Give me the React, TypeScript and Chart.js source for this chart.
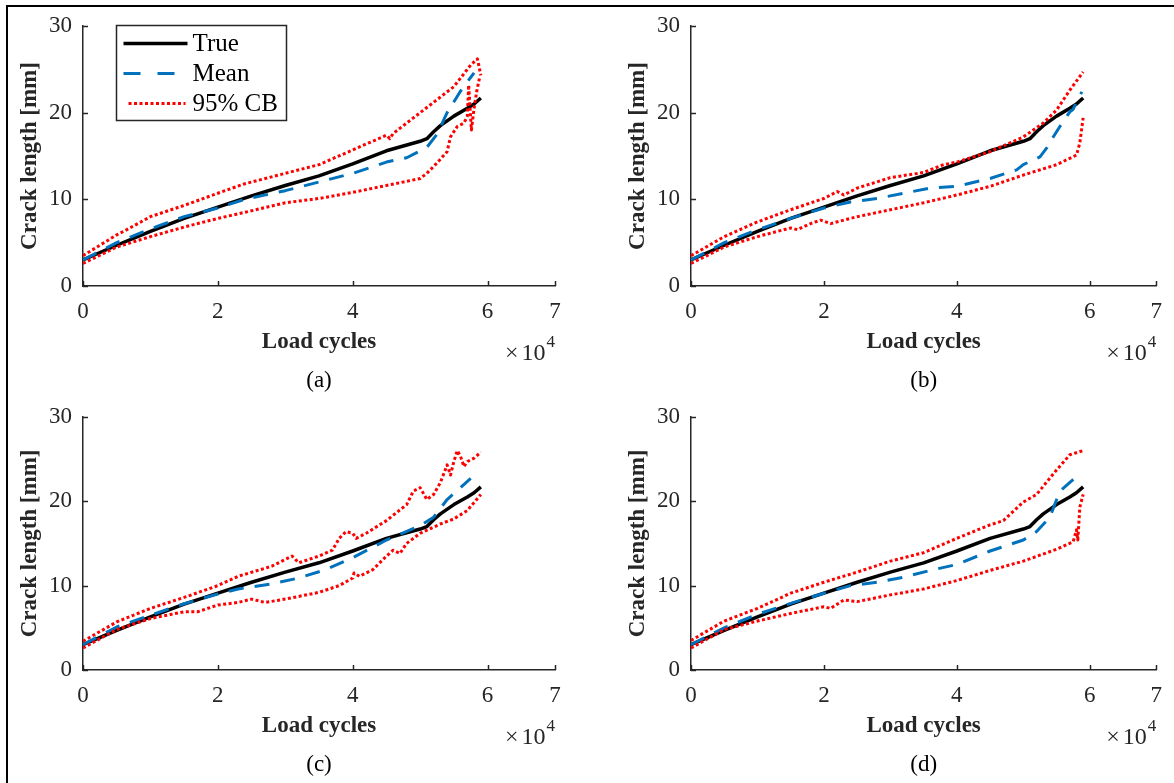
import React, { useEffect, useRef } from "react";
import { Chart, registerables } from "chart.js";
Chart.register(...registerables);

type P = [number, number];

const xTickValues = [0, 2, 4, 6, 7];
const yTickValues = [0, 10, 20, 30];
const xAxisTitle = "Load cycles";
const yAxisTitle = "Crack length [mm]";
const xExponent = "4";
const legendNames = ["True", "Mean", "95% CB"];
const panelLabels = ["(a)", "(b)", "(c)", "(d)"];

// True crack growth (same in all panels)
const trueCurve: P[] = [
  [0, 3.0], [0.5, 4.7], [1, 6.3], [1.5, 7.8], [2, 9.1], [2.5, 10.4], [3, 11.6],
  [3.5, 12.7], [4, 14.1], [4.5, 15.6], [5, 16.7], [5.1, 17.0], [5.2, 17.8],
  [5.3, 18.5], [5.5, 19.6], [5.7, 20.5], [5.8, 21.0], [5.9, 21.7],
];

// (a)
const meanA: P[] = [
  [0, 3.0], [0.5, 5.0], [1, 6.6], [1.5, 8.0], [2, 9.0], [2.4, 10.0], [3, 11.0],
  [3.5, 12.0], [4, 13.0], [4.5, 14.3], [4.8, 14.8], [5.0, 15.6], [5.1, 16.0],
  [5.25, 17.5], [5.4, 20.0], [5.6, 22.5], [5.8, 24.6],
];
const upperA: P[] = [
  [0, 3.5], [0.5, 5.9], [0.65, 6.5], [1, 8.0], [1.5, 9.3], [2, 10.7], [2.4, 11.8],
  [3, 13.0], [3.5, 14.0], [4, 15.7], [4.5, 17.4], [4.55, 17.0], [4.6, 17.6],
  [5.0, 20.0], [5.5, 23.0], [5.75, 25.5], [5.85, 26.2], [5.9, 24.3],
];
const lowerA: P[] = [
  [0, 2.6], [0.5, 4.5], [1, 5.7], [1.5, 6.8], [2, 7.8], [2.4, 8.5], [3, 9.6],
  [3.5, 10.1], [4, 10.8], [4.5, 11.6], [5.0, 12.4], [5.1, 13.0], [5.25, 14.2],
  [5.4, 15.5], [5.45, 17.2], [5.55, 18.4], [5.65, 18.8], [5.7, 19.6],
  [5.72, 23.2], [5.76, 18.0], [5.8, 20.5], [5.84, 22.5], [5.88, 24.0],
];

// (b)
const meanB: P[] = [
  [0, 3.0], [0.5, 5.0], [1, 6.5], [1.5, 7.8], [2, 9.0], [2.4, 9.7], [2.8, 10.1],
  [3.2, 10.7], [3.6, 11.3], [4, 11.5], [4.5, 12.4], [4.9, 13.4], [5.0, 14.0],
  [5.25, 14.9], [5.35, 15.9], [5.45, 17.2], [5.55, 18.4], [5.7, 20.1],
  [5.75, 20.4], [5.88, 22.4],
];
const upperB: P[] = [
  [0, 3.5], [0.5, 5.7], [1, 7.4], [1.5, 8.8], [2, 10.1], [2.2, 10.9], [2.3, 10.5],
  [2.5, 11.3], [3, 12.5], [3.5, 13.1], [3.8, 14.0], [4, 14.3], [4.5, 15.5],
  [5, 17.2], [5.3, 18.8], [5.5, 20.3], [5.7, 22.6], [5.9, 24.7],
];
const lowerB: P[] = [
  [0, 2.6], [0.5, 4.5], [1, 5.7], [1.5, 6.7], [1.6, 6.5], [1.8, 7.2], [1.95, 7.6],
  [2.1, 7.2], [2.5, 8.0], [3, 8.8], [3.5, 9.6], [4, 10.5], [4.5, 11.5],
  [5, 12.8], [5.5, 14.0], [5.8, 15.1], [5.85, 16.5], [5.9, 19.4],
];

// (c)
const meanC: P[] = [
  [0, 3.0], [0.5, 5.1], [1, 6.5], [1.5, 7.85], [2, 9.0], [2.3, 9.6], [2.8, 10.2],
  [3.2, 10.9], [3.6, 11.9], [4, 13.3], [4.5, 15.4], [5, 17.1], [5.2, 18.1],
  [5.4, 20.2], [5.75, 22.7],
];
const upperC: P[] = [
  [0, 3.4], [0.5, 5.7], [1, 7.3], [1.5, 8.6], [2, 10.0], [2.3, 11.1], [2.8, 12.3],
  [3.0, 13.1], [3.1, 13.5], [3.2, 12.7], [3.5, 13.5], [3.7, 14.2], [3.8, 15.6],
  [3.9, 16.4], [4.0, 16.2], [4.05, 15.6], [4.2, 16.2], [4.5, 17.7], [4.8, 19.6],
  [4.9, 21.2], [5.0, 21.6], [5.1, 20.2], [5.2, 20.8], [5.3, 22.2], [5.4, 24.3],
  [5.45, 23.1], [5.5, 24.7], [5.55, 26.0], [5.6, 25.3], [5.65, 24.1], [5.7, 24.7],
  [5.8, 25.1], [5.9, 25.8],
];
const lowerC: P[] = [
  [0, 2.6], [0.5, 4.8], [1, 6.1], [1.5, 6.9], [1.7, 6.9], [2.0, 7.7], [2.3, 8.0],
  [2.5, 8.4], [2.7, 8.0], [3, 8.4], [3.5, 9.2], [3.8, 10.0], [4.0, 10.9],
  [4.02, 11.5], [4.1, 11.1], [4.3, 11.9], [4.5, 13.5], [4.6, 14.2], [4.7, 13.8],
  [4.8, 15.0], [5.0, 16.2], [5.3, 17.3], [5.5, 17.9], [5.7, 18.9], [5.9, 20.8],
];

// (d)
const meanD: P[] = [
  [0, 3.0], [0.5, 5.0], [1, 6.6], [1.5, 7.9], [2, 9.1], [2.4, 10.0], [2.8, 10.4],
  [3.2, 11.0], [3.6, 11.8], [4, 12.5], [4.5, 14.1], [5, 15.4], [5.2, 16.4],
  [5.4, 18.1], [5.55, 21.2], [5.8, 22.9], [5.85, 23.3],
];
const upperD: P[] = [
  [0, 3.5], [0.5, 5.8], [0.8, 6.7], [1, 7.3], [1.5, 9.1], [2, 10.4], [2.5, 11.6],
  [3, 12.9], [3.5, 13.9], [4, 15.6], [4.5, 17.2], [4.7, 17.7], [5, 19.9],
  [5.2, 20.8], [5.5, 23.7], [5.7, 25.5], [5.9, 26.0],
];
const lowerD: P[] = [
  [0, 2.6], [0.5, 4.8], [1, 5.8], [1.5, 6.7], [2, 7.5], [2.1, 7.3], [2.3, 8.3],
  [2.5, 8.1], [3, 8.9], [3.5, 9.6], [4, 10.6], [4.5, 11.8], [5, 12.9],
  [5.5, 14.3], [5.75, 15.2], [5.8, 16.6], [5.82, 15.4], [5.85, 19.3], [5.9, 20.8],
];

const meanSets = [meanA, meanB, meanC, meanD];
const upperSets = [upperA, upperB, upperC, upperD];
const lowerSets = [lowerA, lowerB, lowerC, lowerD];

const SERIF = "'Liberation Serif', 'Times New Roman', serif";
const AXIS = "#262626";
const BLUE = "#0072BD";
const RED = "#FF0000";

const W = 1174;
const H = 783;

const layouts = [
  { ox: 0, oy: 0, w: 587, h: 392, L: 83, T: 26, R: 555, B: 286 },
  { ox: 587, oy: 0, w: 587, h: 392, L: 691, T: 26, R: 1163, B: 286 },
  { ox: 0, oy: 392, w: 587, h: 391, L: 83, T: 411, R: 555, B: 670 },
  { ox: 587, oy: 392, w: 587, h: 391, L: 691, T: 411, R: 1163, B: 670 },
];

const toXY = (arr: P[]) => arr.map(([x, y]) => ({ x, y }));

const decorPlugin = {
  id: "decor",
  afterDraw(chart: any, _args: any, opts: any) {
    const { ctx, chartArea, scales } = chart;
    const { left, right, top, bottom } = chartArea;
    ctx.save();
    // inward ticks
    ctx.strokeStyle = AXIS;
    ctx.lineWidth = 1.5;
    ctx.setLineDash([]);
    xTickValues.forEach((v) => {
      const px = Math.round(scales.x.getPixelForValue(v)) + 0.5;
      ctx.beginPath();
      ctx.moveTo(px, bottom);
      ctx.lineTo(px, bottom - 5);
      ctx.stroke();
    });
    yTickValues.forEach((v) => {
      const py = Math.round(scales.y.getPixelForValue(v)) + 0.5;
      ctx.beginPath();
      ctx.moveTo(left, py);
      ctx.lineTo(left + 5, py);
      ctx.stroke();
    });

    // axis titles
    ctx.fillStyle = AXIS;
    ctx.font = `bold 23px ${SERIF}`;
    ctx.textAlign = "center";
    ctx.textBaseline = "middle";
    ctx.fillText(xAxisTitle, (left + right) / 2, bottom + 56);
    ctx.save();
    ctx.translate(left - 53, (top + bottom) / 2);
    ctx.rotate(-Math.PI / 2);
    ctx.fillText(yAxisTitle, 0, 0);
    ctx.restore();

    // x10^4
    ctx.font = `24px ${SERIF}`;
    const timesW = ctx.measureText("\u00d7").width;
    const tenW = ctx.measureText("10").width;
    ctx.font = `17px ${SERIF}`;
    const expW = ctx.measureText(xExponent).width;
    const gap = 3;
    const startX = right - 1 - expW - tenW - timesW - gap;
    ctx.textAlign = "left";
    ctx.textBaseline = "alphabetic";
    ctx.font = `24px ${SERIF}`;
    ctx.fillText("\u00d7", startX, bottom + 74);
    ctx.fillText("10", startX + timesW + gap, bottom + 74);
    ctx.font = `17px ${SERIF}`;
    ctx.fillText(xExponent, startX + timesW + gap + tenW + 1, bottom + 61);

    // panel label
    ctx.fillStyle = "#000";
    ctx.font = `23px ${SERIF}`;
    ctx.textAlign = "center";
    ctx.textBaseline = "middle";
    ctx.fillText(opts.label, (left + right) / 2, bottom + 95);

    // legend
    if (opts.legend) {
      const bx = left + 33.5;
      const by = top - 0.5;
      const bw = 170;
      const bh = 95;
      ctx.fillStyle = "#fff";
      ctx.fillRect(bx, by, bw, bh);
      ctx.strokeStyle = AXIS;
      ctx.lineWidth = 1.5;
      ctx.strokeRect(bx, by, bw, bh);
      const rows = [by + 18, by + 48, by + 78];
      const x1 = bx + 7;
      const x2 = bx + 71;
      // True
      ctx.lineCap = "butt";
      ctx.strokeStyle = "#000";
      ctx.lineWidth = 3.5;
      ctx.setLineDash([]);
      ctx.beginPath();
      ctx.moveTo(x1, rows[0]);
      ctx.lineTo(x2, rows[0]);
      ctx.stroke();
      // Mean
      ctx.strokeStyle = BLUE;
      ctx.lineWidth = 3;
      ctx.setLineDash([17, 17]);
      ctx.beginPath();
      ctx.moveTo(x1, rows[1]);
      ctx.lineTo(x2, rows[1]);
      ctx.stroke();
      // CB
      ctx.strokeStyle = RED;
      ctx.lineWidth = 3;
      ctx.setLineDash([3, 2.5]);
      ctx.beginPath();
      ctx.moveTo(x1 + 5, rows[2]);
      ctx.lineTo(x2 - 2, rows[2]);
      ctx.stroke();
      ctx.setLineDash([]);
      ctx.fillStyle = "#000";
      ctx.font = `25px ${SERIF}`;
      ctx.textAlign = "left";
      ctx.textBaseline = "middle";
      legendNames.forEach((n, i) => ctx.fillText(n, bx + 76, rows[i] + 1));
    }
    ctx.restore();
  },
};

function Panel({ idx }: { idx: number }) {
  const ref = useRef<HTMLCanvasElement | null>(null);
  const lay = layouts[idx];
  useEffect(() => {
    if (!ref.current) return;
    const yW = lay.L - lay.ox;
    const xH = lay.oy + lay.h - lay.B;
    const chart = new Chart(ref.current, {
      type: "line",
      data: {
        datasets: [
          {
            label: legendNames[2],
            data: toXY(upperSets[idx]),
            borderColor: RED,
            borderWidth: 3,
            borderDash: [3, 2.5],
            pointRadius: 0,
            tension: 0,
            fill: false,
          },
          {
            label: legendNames[2],
            data: toXY(lowerSets[idx]),
            borderColor: RED,
            borderWidth: 3,
            borderDash: [3, 2.5],
            pointRadius: 0,
            tension: 0,
            fill: false,
          },
          {
            label: legendNames[1],
            data: toXY(meanSets[idx]),
            borderColor: BLUE,
            borderWidth: 3,
            borderDash: [15, 11],
            pointRadius: 0,
            tension: 0,
            fill: false,
          },
          {
            label: legendNames[0],
            data: toXY(trueCurve),
            borderColor: "#000",
            borderWidth: 3.5,
            pointRadius: 0,
            tension: 0,
            fill: false,
          },
        ],
      } as any,
      options: {
        responsive: false,
        animation: false,
        devicePixelRatio: 1,
        events: [],
        layout: {
          padding: { left: 0, top: lay.T - lay.oy, right: lay.ox + lay.w - lay.R, bottom: 0 },
        },
        elements: { line: { borderJoinStyle: "round", borderCapStyle: "butt" } },
        plugins: {
          legend: { display: false },
          tooltip: { enabled: false },
          decor: { label: panelLabels[idx], legend: idx === 0 },
        } as any,
        scales: {
          x: {
            type: "linear",
            min: 0,
            max: 7,
            afterBuildTicks: (s: any) => {
              s.ticks = xTickValues.map((v) => ({ value: v }));
            },
            afterFit: (s: any) => {
              s.height = xH;
            },
            grid: { display: false, drawTicks: false },
            border: { display: true, color: AXIS, width: 1.5 },
            ticks: {
              font: { family: SERIF, size: 23 },
              color: AXIS,
              padding: 12,
              maxRotation: 0,
              autoSkip: false,
            },
          },
          y: {
            type: "linear",
            min: 0,
            max: 30,
            afterBuildTicks: (s: any) => {
              s.ticks = yTickValues.map((v) => ({ value: v }));
            },
            afterFit: (s: any) => {
              s.width = yW;
            },
            grid: { display: false, drawTicks: false },
            border: { display: true, color: AXIS, width: 1.5 },
            ticks: {
              font: { family: SERIF, size: 23 },
              color: AXIS,
              padding: 11,
              autoSkip: false,
            },
          },
        },
      },
      plugins: [decorPlugin as any],
    });
    return () => chart.destroy();
  }, [idx]);
  return (
    <canvas
      ref={ref}
      width={lay.w}
      height={lay.h}
      style={{ position: "absolute", left: lay.ox, top: lay.oy, width: lay.w, height: lay.h }}
    />
  );
}

export default function App() {
  return (
    <div style={{ position: "absolute", left: 0, top: 0, width: W, height: H, background: "#fff", overflow: "hidden" }}>
      {[0, 1, 2, 3].map((i) => (
        <Panel key={i} idx={i} />
      ))}
      <div style={{ position: "absolute", left: 6, top: 5, width: W - 6, height: 2, background: "#000" }} />
      <div style={{ position: "absolute", left: 6, top: 5, width: 2, height: H - 5, background: "#000" }} />
    </div>
  );
}
